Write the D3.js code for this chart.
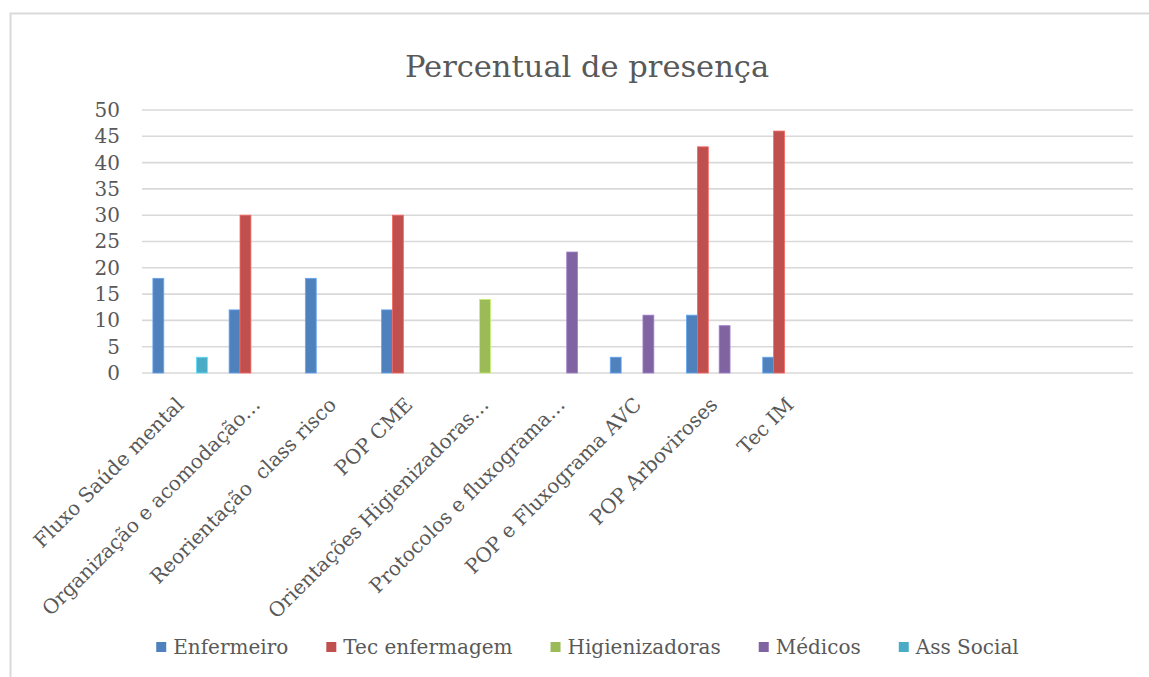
<!DOCTYPE html>
<html>
<head>
<meta charset="utf-8">
<script src="https://cdn.jsdelivr.net/npm/d3@7"></script>
<style>
  body { margin: 0; background: #fff; }
  svg { display: block; }
  text { font-family: "DejaVu Serif", serif; fill: #595959; white-space: pre; }
</style>
</head>
<body>
<div id="chart"></div>
<script>
"use strict";

const categories = [
  "Fluxo Saúde mental",
  "Organização e acomodação…",
  "Reorientação  class risco",
  "POP CME",
  "Orientações Higienizadoras…",
  "Protocolos e fluxograma…",
  "POP e Fluxograma AVC",
  "POP Arboviroses",
  "Tec IM",
  "", "", "", ""
];
const seriesNames = ["Enfermeiro", "Tec enfermagem", "Higienizadoras", "Médicos", "Ass Social"];
const seriesColors = ["#4F81BD", "#C0504D", "#9BBB59", "#8064A2", "#4BACC6"];
const enfermeiro = [18, 12, 18, 12, 0, 0, 3, 11, 3, 0, 0, 0, 0];
const tecEnfermagem = [0, 30, 0, 30, 0, 0, 0, 43, 46, 0, 0, 0, 0];
const higienizadoras = [0, 0, 0, 0, 14, 0, 0, 0, 0, 0, 0, 0, 0];
const medicos = [0, 0, 0, 0, 0, 23, 11, 9, 0, 0, 0, 0, 0];
const assSocial = [3, 0, 0, 0, 0, 0, 0, 0, 0, 0, 0, 0, 0];
const yTicks = [0, 5, 10, 15, 20, 25, 30, 35, 40, 45, 50];

(function drawChart() {
  const width = 1149;
  const height = 677;
  const plot = { left: 142, right: 1133, top: 110, bottom: 373 };
  const values = [enfermeiro, tecEnfermagem, higienizadoras, medicos, assSocial];

  const svg = d3
    .select("#chart")
    .append("svg")
    .attr("width", width)
    .attr("height", height);

  // chart frame, runs off the right and bottom edges
  svg
    .append("rect")
    .attr("x", 10.5)
    .attr("y", 13.5)
    .attr("width", 1160)
    .attr("height", 680)
    .attr("fill", "#fff")
    .attr("stroke", "#D9D9D9")
    .attr("stroke-width", 2);

  svg
    .append("text")
    .attr("x", 587)
    .attr("y", 77)
    .attr("text-anchor", "middle")
    .style("font-size", "30.5px")
    .text("Percentual de presença");

  const x0 = d3
    .scaleBand()
    .domain(d3.range(categories.length))
    .range([plot.left, plot.right])
    .padding(0);
  const x1 = d3
    .scaleBand()
    .domain(d3.range(seriesNames.length))
    .range([0, x0.bandwidth()])
    .paddingInner(0)
    .paddingOuter(1);
  const y = d3.scaleLinear().domain([0, 50]).range([plot.bottom, plot.top]);

  // gridlines
  svg
    .append("g")
    .selectAll("line")
    .data(yTicks)
    .join("line")
    .attr("x1", plot.left)
    .attr("x2", plot.right)
    .attr("y1", (d) => y(d))
    .attr("y2", (d) => y(d))
    .attr("stroke", "#D9D9D9")
    .attr("stroke-width", 1.6);

  const yAxis = svg
    .append("g")
    .attr("transform", `translate(${plot.left - 22},0)`)
    .call(d3.axisLeft(y).tickValues(yTicks).tickSize(0).tickPadding(0));
  yAxis.select(".domain").remove();
  yAxis
    .selectAll("text")
    .attr("fill", "#595959")
    .style("font-family", "DejaVu Serif")
    .style("font-size", "20px");

  // bars
  const groups = svg
    .append("g")
    .selectAll("g")
    .data(categories.map((c, i) => i))
    .join("g")
    .attr("transform", (i) => `translate(${x0(i)},0)`);

  groups
    .selectAll("rect")
    .data((i) => values.map((s, k) => ({ k, v: s[i] })).filter((d) => d.v > 0))
    .join("rect")
    .attr("x", (d) => x1(d.k))
    .attr("y", (d) => y(d.v))
    .attr("width", x1.bandwidth())
    .attr("height", (d) => y(0) - y(d.v))
    .attr("fill", (d) => seriesColors[d.k])
    .attr("stroke", (d) => d3.color(seriesColors[d.k]).brighter(0.7))
    .attr("stroke-width", 0.8);

  // rotated category labels
  svg
    .append("g")
    .selectAll("text")
    .data(categories.map((c, i) => ({ c, i })))
    .join("text")
    .attr("text-anchor", "end")
    .attr("dy", "0.35em")
    .attr(
      "transform",
      (d) => `translate(${x0(d.i) + x0.bandwidth() / 2 + 0},${plot.bottom + 28}) rotate(-45)`,
    )
    .style("font-size", "20px")
    .text((d) => d.c);

  // legend
  const legend = svg.append("g");
  const items = legend
    .selectAll("g")
    .data(seriesNames)
    .join("g");
  items
    .append("rect")
    .attr("width", 10)
    .attr("height", 10)
    .attr("y", -5)
    .attr("fill", (d, i) => seriesColors[i]);
  items
    .append("text")
    .attr("x", 17)
    .attr("dy", "0.35em")
    .style("font-size", "20px")
    .text((d) => d);

  let cursor = 0;
  const gap = 38;
  items.each(function placeItem() {
    const w = this.getBBox().width;
    d3.select(this).attr("data-x", cursor);
    cursor += w + gap;
  });
  const total = cursor - gap;
  const startX = 587.5 - total / 2;
  items.attr("transform", function shift() {
    return `translate(${startX + +d3.select(this).attr("data-x")},647)`;
  });
})();
</script>
</body>
</html>
